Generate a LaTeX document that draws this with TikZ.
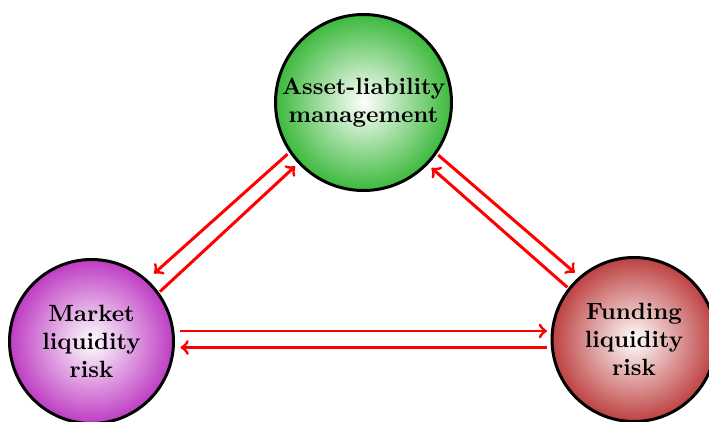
\documentclass[tikz,border=0pt]{standalone}
\usetikzlibrary{calc}
\definecolor{almgreen}{RGB}{60,185,60}
\definecolor{mktmagenta}{RGB}{190,60,195}
\definecolor{fundred}{RGB}{190,65,65}
\begin{document}
\begin{tikzpicture}[x=0.425pt, y=-0.425pt,
  ball/.style={circle, draw=black, line width=1.27pt, inner sep=0pt,
    align=center, font=\bfseries, inner color=white},
  flow/.style={->, draw=red, line width=1.27pt}]
\useasboundingbox (0,0) rectangle (709,422);

% the three risk areas
\node[ball, outer color=almgreen, minimum size=74.8pt] (alm) at (363.5,102.5)
  {Asset-liability\\management};
\node[ball, outer color=mktmagenta, minimum size=69.7pt] (mkt) at (91.5,341.5)
  {Market\\liquidity\\risk};
\node[ball, outer color=fundred, minimum size=69.7pt] (fund) at (634,339.5)
  {Funding\\liquidity\\risk};

% two-way links between them
\draw[flow, shorten <=1pt, shorten >=3.8pt] (alm.214.8) -- (mkt.48.5);
\draw[flow, shorten <=0.5pt, shorten >=1.7pt] (mkt.36.9) -- (alm.223.7);
\draw[flow, shorten <=0.8pt, shorten >=2.5pt] (alm.325.7) -- (fund.131.2);
\draw[flow, shorten <=0.5pt, shorten >=2.1pt] (fund.142.5) -- (alm.316.3);
\draw[flow] ($(mkt)+(88.5,-10.5)$) -- ($(fund)+(-87,-8.5)$);
\draw[flow] ($(fund)+(-87,8)$) -- ($(mkt)+(89,6)$);
\end{tikzpicture}
\end{document}
